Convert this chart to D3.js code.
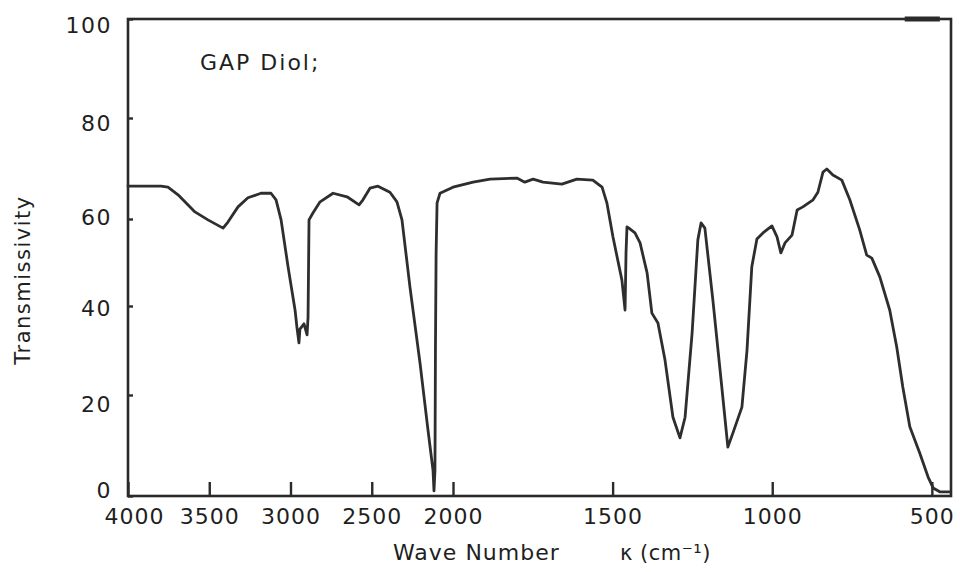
<!DOCTYPE html>
<html>
<head>
<meta charset="utf-8">
<script src="https://cdn.jsdelivr.net/npm/d3@7/dist/d3.min.js"></script>
<style>
  html, body { margin: 0; padding: 0; background: #ffffff; }
  svg { display: block; }
  text { font-family: "DejaVu Sans", "Liberation Sans", sans-serif; fill: #1f1f1f; }
</style>
</head>
<body>
<svg id="chart" width="960" height="572"></svg>
<script>
// ---- data ----
const chartTitle = "GAP Diol;";
const xTickValues = [4000, 3500, 3000, 2500, 2000, 1500, 1000, 500];
const yTickValues = [0, 20, 40, 60, 80, 100];
const wavenumber = [
  4000, 3797, 3754, 3692, 3588, 3508, 3415, 3385, 3323, 3262,
  3182, 3120, 3089, 3058, 3015, 2972, 2960, 2948, 2942, 2917,
  2898, 2892, 2886, 2862, 2818, 2738, 2652, 2578, 2554, 2511,
  2462, 2388, 2345, 2314, 2265, 2203, 2154, 2123, 2117, 2111,
  2108, 2104, 2098, 2080, 2000, 1937, 1884, 1800, 1775, 1749, 1718,
  1659, 1612, 1562, 1533, 1518, 1499, 1471, 1461, 1458, 1455,
  1449, 1430, 1414, 1392, 1377, 1358, 1336, 1311, 1289, 1273,
  1251, 1233, 1223, 1211, 1186, 1158, 1139, 1123, 1095, 1079,
  1064, 1048, 1029, 1001, 985, 973, 960, 938, 922, 904,
  872, 857, 841, 829, 810, 782, 757, 726, 704, 688,
  663, 632, 610, 591, 569, 538, 512, 496, 474, 443
];
const transmissivity = [
  66.5, 66.5, 66.3, 64.8, 61.4, 59.8, 57.9, 59.3, 62.4, 64.2,
  65.1, 65.1, 63.8, 59.8, 49.0, 39.1, 35.1, 31.7, 34.8, 36.0,
  33.5, 37.5, 59.8, 61.2, 63.4, 65.1, 64.4, 62.8, 63.8, 66.1,
  66.5, 65.3, 63.4, 59.8, 44.4, 27.2, 13.1, 5.1, 1.0, 5.1,
  30.1, 52.0, 63.2, 65.1, 66.3, 67.3, 67.9, 68.1, 67.3, 67.9, 67.3,
  66.9, 67.9, 67.7, 66.3, 63.2, 55.9, 46.0, 39.1, 52.2, 58.2,
  57.9, 56.8, 54.5, 47.6, 38.4, 36.2, 27.9, 15.6, 11.5, 15.6,
  33.9, 55.2, 59.1, 57.9, 41.4, 21.8, 9.7, 12.5, 17.6, 30.1,
  49.0, 55.4, 56.8, 58.4, 55.9, 52.2, 54.5, 56.3, 61.8, 62.4,
  63.8, 65.3, 69.3, 69.9, 68.7, 67.7, 63.8, 57.5, 51.7, 51.0,
  46.7, 39.1, 30.8, 21.8, 13.7, 8.5, 3.8, 1.6, 0.8, 0.8
];

// ---- scales (spectrometer chart: scale change at 2000 cm-1) ----
const svg = d3.select("#chart");
const x = d3.scaleLinear().domain([4000, 2000, 440]).range([128, 453, 951]);
const y = d3.scaleLinear().domain([0, 20, 40, 60, 80, 100]).range([496, 395, 306, 219, 118, 19]);

const ink = "#2a2a2a";

// frame
svg.append("rect")
  .attr("x", x(4000)).attr("y", y(100))
  .attr("width", x(440) - x(4000)).attr("height", y(0) - y(100))
  .attr("fill", "none").attr("stroke", ink).attr("stroke-width", 2.6);

// x axis
const xAxis = d3.axisBottom(x).tickValues(xTickValues).tickFormat(d3.format("d"))
  .tickSizeInner(-14).tickSizeOuter(0).tickPadding(12);
const gx = svg.append("g").attr("transform", `translate(0,${y(0)})`).call(xAxis);
gx.select(".domain").remove();
gx.selectAll(".tick line").attr("stroke", ink).attr("stroke-width", 2.4);
gx.selectAll(".tick text").style("font-size", "22px").style("letter-spacing", "1px")
  .attr("fill", "#1f1f1f")
  .attr("dx", d => d === 4000 ? 6 : 0);

// y axis
const yLabelShift = { 0: -6, 20: 9, 40: 2, 60: -2, 80: 5, 100: 6 };
const yAxis = d3.axisLeft(y).tickValues(yTickValues).tickFormat(d3.format("d"))
  .tickSizeInner(-5).tickSizeOuter(0).tickPadding(16);
const gy = svg.append("g").attr("transform", `translate(${x(4000)},0)`).call(yAxis);
gy.select(".domain").remove();
gy.selectAll(".tick line").attr("stroke", ink).attr("stroke-width", 2.4);
gy.selectAll(".tick text").style("font-size", "22px").style("letter-spacing", "1.5px")
  .attr("fill", "#1f1f1f")
  .attr("y", d => yLabelShift[d] || 0);

// scan artifact: thick mark on top edge near the right
svg.append("line")
  .attr("x1", x(585)).attr("x2", x(475)).attr("y1", y(100)).attr("y2", y(100))
  .attr("stroke", ink).attr("stroke-width", 5);

// spectrum
const pts = wavenumber.map((w, i) => [w, transmissivity[i]]);
const line = d3.line().x(d => x(d[0])).y(d => y(d[1])).curve(d3.curveLinear);
svg.append("path").datum(pts)
  .attr("d", line)
  .attr("fill", "none").attr("stroke", "#2e2e2e").attr("stroke-width", 2.8)
  .attr("stroke-linejoin", "round").attr("stroke-linecap", "round");

// title inside plot
svg.append("text").attr("x", 200).attr("y", 70)
  .style("font-size", "22px").style("letter-spacing", "2px").text(chartTitle);

// axis titles
svg.append("text").attr("x", 393).attr("y", 560)
  .style("font-size", "22px").style("letter-spacing", "1px").text("Wave Number");
svg.append("text").attr("x", 620).attr("y", 560)
  .style("font-size", "21px").style("letter-spacing", "0.5px").text("κ (cm⁻¹)");
svg.append("text")
  .attr("transform", "translate(30,280) rotate(-90)")
  .attr("text-anchor", "middle")
  .style("font-size", "21px").style("letter-spacing", "1.5px").text("Transmissivity");
</script>
</body>
</html>
